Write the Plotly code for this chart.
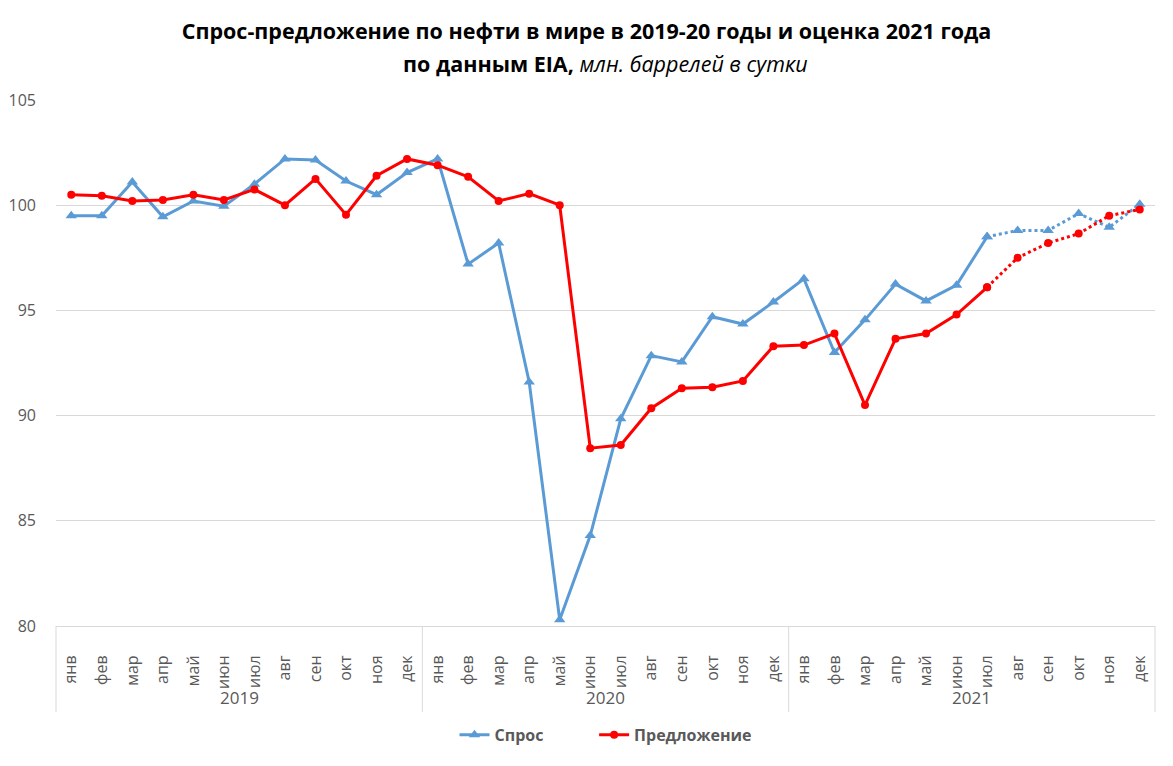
import plotly.graph_objects as go

year_names = ["2019", "2020", "2021"]
month_names = ["янв", "фев", "мар", "апр", "май", "июн", "июл", "авг", "сен", "окт", "ноя", "дек"]
months = month_names * len(year_names)

demand = [99.5, 99.5, 101.1, 99.45, 100.2, 99.95, 101.0, 102.2, 102.15, 101.15, 100.5, 101.55,
          102.2, 97.2, 98.2, 91.6, 80.3, 84.3, 89.85, 92.85, 92.55, 94.7, 94.35, 95.4,
          96.5, 93.0, 94.55, 96.25, 95.45, 96.2, 98.5, 98.8, 98.8, 99.6, 98.95, 100.05]
supply = [100.5, 100.45, 100.2, 100.25, 100.5, 100.25, 100.75, 100.0, 101.25, 99.55, 101.4, 102.2,
          101.9, 101.35, 100.2, 100.55, 100.0, 88.45, 88.6, 90.35, 91.3, 91.35, 91.65, 93.3,
          93.35, 93.9, 90.5, 93.65, 93.9, 94.8, 96.1, 97.5, 98.2, 98.65, 99.5, 99.8]

forecast_start = 30  # июл 2021: from here the lines are dotted

BLUE = "#5B9BD5"
RED = "#FF0000"
GREY = "#595959"
GRID = "#D9D9D9"

n = len(months)
idx = list(range(n))
per_year = len(month_names)

fig = go.Figure()

def add_series(name, values, color, symbol, msize):
    fig.add_trace(go.Scatter(
        x=idx[:forecast_start + 1], y=values[:forecast_start + 1], name=name, legendgroup=name,
        mode="lines+markers", line=dict(color=color, width=3),
        marker=dict(symbol=symbol, size=msize, color=color)))
    fig.add_trace(go.Scatter(
        x=idx[forecast_start:], y=values[forecast_start:], name=name, legendgroup=name,
        showlegend=False,
        mode="lines+markers", line=dict(color=color, width=3, dash="dot"),
        marker=dict(symbol=symbol, size=msize, color=color)))

add_series("<b>Спрос</b>" + "\u00a0" * 11, demand, BLUE, "triangle-up", 10)
add_series("<b>Предложение</b>", supply, RED, "circle", 8)

# plot area: 56..1155 px wide, 100..626 px tall
plot_h = 526
div_bottom = -(712 - 626) / plot_h
year_y = -(697 - 626) / plot_h

shapes = []
for g in range(len(year_names) + 1):
    xd = g * per_year / n
    shapes.append(dict(type="line", xref="x domain", yref="paper", x0=xd, x1=xd,
                       y0=0, y1=div_bottom, line=dict(color=GRID, width=1)))

annotations = [dict(
    text="<b>по данным EIA,</b> <i>млн. баррелей в сутки</i>",
    xref="paper", yref="paper", x=0.5, y=(626 - 63) / plot_h, xanchor="center", yanchor="middle",
    showarrow=False, font=dict(family="Open Sans", size=21.5, color="black"))]
for g, yr in enumerate(year_names):
    annotations.append(dict(text=yr, xref="x", yref="paper",
                            x=g * per_year + (per_year - 1) / 2, y=year_y,
                            xanchor="center", yanchor="middle", showarrow=False,
                            font=dict(family="Open Sans", size=17, color=GREY)))

fig.update_layout(
    width=1173, height=766,
    paper_bgcolor="white", plot_bgcolor="white",
    margin=dict(l=56, r=18, t=100, b=140, autoexpand=False),
    font=dict(family="Open Sans", color=GREY),
    title=dict(
        text="<b>Спрос-предложение по нефти в мире в 2019-20 годы и оценка 2021 года</b>",
        x=0.5, xanchor="center", yref="container", y=1 - 31 / 766, yanchor="middle",
        font=dict(family="Open Sans", size=21.5, color="black")),
    annotations=annotations,
    shapes=shapes,
    legend=dict(orientation="h", x=0.5, xanchor="center", y=-0.207, yanchor="middle",
                font=dict(size=16, color=GREY, family="Open Sans"),
                traceorder="normal"),
    showlegend=True,
)

fig.update_yaxes(range=[80, 105], dtick=5, showgrid=True, gridcolor=GRID, gridwidth=1,
                 zeroline=False, showline=False, ticks="", ticklabelstandoff=19,
                 automargin=False, tickfont=dict(size=16, color=GREY))
fig.update_xaxes(range=[-0.5, n - 0.5], tickmode="array", tickvals=idx, ticktext=months,
                 showline=True, linecolor=GRID, linewidth=1, showgrid=False, zeroline=False,
                 ticks="", tickangle=-90, ticklabelstandoff=22, automargin=False,
                 tickfont=dict(size=16, color=GREY))

fig.write_html("out.html", config={"displayModeBar": False},
               post_script="document.body.style.margin='0';")
